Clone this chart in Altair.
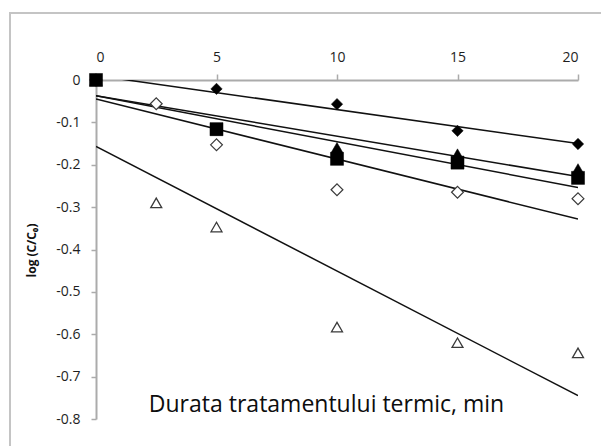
import altair as alt
import pandas as pd

# Heating time (min) for each sampling scheme
t_main = [0, 5, 10, 15, 20]
t_dense = [0, 2.5, 5, 10, 15, 20]

# log(C/C0) for each sample
filled_diamond = [0, -0.021, -0.057, -0.12, -0.151]
filled_triangle = [0, -0.118, -0.16, -0.175, -0.21]
filled_square = [0, -0.116, -0.186, -0.195, -0.231]
open_diamond = [0, -0.056, -0.153, -0.259, -0.265, -0.28]
open_triangle = [0, -0.29, -0.347, -0.583, -0.62, -0.644]

x_ticks = [0, 5, 10, 15, 20]
y_ticks = [0, -0.1, -0.2, -0.3, -0.4, -0.5, -0.6, -0.7, -0.8]

series = [
    ("open_triangle", t_dense, open_triangle),
    ("open_diamond", t_dense, open_diamond),
    ("filled_diamond", t_main, filled_diamond),
    ("filled_triangle", t_main, filled_triangle),
    ("filled_square", t_main, filled_square),
]

rows = []
for name, ts, vs in series:
    for t, v in zip(ts, vs):
        rows.append({"series": name, "t": t, "v": v})
df = pd.DataFrame(rows)

AXIS_GREY = "#ababab"
LABEL_COLOR = "#1e1e1e"
FONT = "Open Sans"

x_enc = alt.X(
    "t:Q",
    scale=alt.Scale(domain=[0, 20], nice=False, zero=False),
    axis=alt.Axis(
        orient="top",
        values=x_ticks,
        grid=False,
        domainColor=AXIS_GREY,
        domainWidth=2,
        tickColor=AXIS_GREY,
        tickWidth=1.5,
        tickSize=6,
        labelPadding=10,
        labelFont=FONT,
        labelFontSize=14,
        labelColor=LABEL_COLOR,
        title="Durata tratamentului termic, min",
        titleFont=FONT,
        titleFontSize=23,
        titleFontWeight="normal",
        titleColor="#0d0d0d",
        titleX=230,
        titleY=331,
        titleAlign="center",
        titleBaseline="alphabetic",
        titleAngle=0,
    ),
)

y_enc = alt.Y(
    "v:Q",
    scale=alt.Scale(domain=[-0.8, 0], nice=False, zero=False),
    axis=alt.Axis(
        values=y_ticks,
        grid=False,
        domainColor=AXIS_GREY,
        domainWidth=2,
        tickColor=AXIS_GREY,
        tickWidth=1.5,
        tickSize=5,
        labelPadding=11,
        labelFont=FONT,
        labelFontSize=14,
        labelColor=LABEL_COLOR,
        labelExpr="datum.value == 0 ? '0' : '-' + format(-datum.value, '.1f')",
        title="log (C/C₀)",
        titleFont=FONT,
        titleFontSize=12,
        titleFontWeight="bold",
        titleColor="#111111",
        titleAngle=-90,
        titleX=-58,
        titleY=170,
        titleAlign="center",
        titleBaseline="bottom",
    ),
)

# Outer frame around the chart area
frame = alt.Chart(pd.DataFrame({"k": [0]})).mark_rect(
    fillOpacity=0, stroke="#c4c4c4", strokeWidth=2
).encode(
    x=alt.value(-86), x2=alt.value(700), y=alt.value(-67), y2=alt.value(600)
)

# Least-squares trend line for each sample
trend = alt.Chart(df).transform_regression(
    "t", "v", groupby=["series"], extent=[0, 20]
).mark_line(color="#111111", strokeWidth=1.5, clip=True).encode(
    x=x_enc, y=y_enc, detail="series:N"
)

styles = {
    "open_triangle": dict(shape="triangle-up", size=120, fill="white", stroke="#3a3a3a", strokeWidth=1.3),
    "open_diamond": dict(shape="diamond", size=140, fill="white", stroke="#3a3a3a", strokeWidth=1.2),
    "filled_diamond": dict(shape="diamond", size=130, fill="black", stroke="black", strokeWidth=0.5),
    "filled_triangle": dict(shape="triangle-up", size=150, fill="black", stroke="black", strokeWidth=0.5),
    "filled_square": dict(shape="square", size=170, fill="black", stroke="black", strokeWidth=0.5),
}

point_layers = []
for name, _, _ in series:
    st = styles[name]
    point_layers.append(
        alt.Chart(df)
        .transform_filter(alt.datum.series == name)
        .mark_point(filled=True, opacity=1, fillOpacity=1, **st)
        .encode(x=x_enc, y=y_enc)
    )

chart = alt.layer(frame, trend, *point_layers).properties(
    width=482,
    height=339,
    autosize=alt.AutoSizeParams(type="none"),
    padding={"left": 96, "top": 80, "right": 23, "bottom": 27},
    background="white",
).configure_view(stroke=None)

chart.save("out.html", embed_options={"renderer": "svg", "actions": False})
